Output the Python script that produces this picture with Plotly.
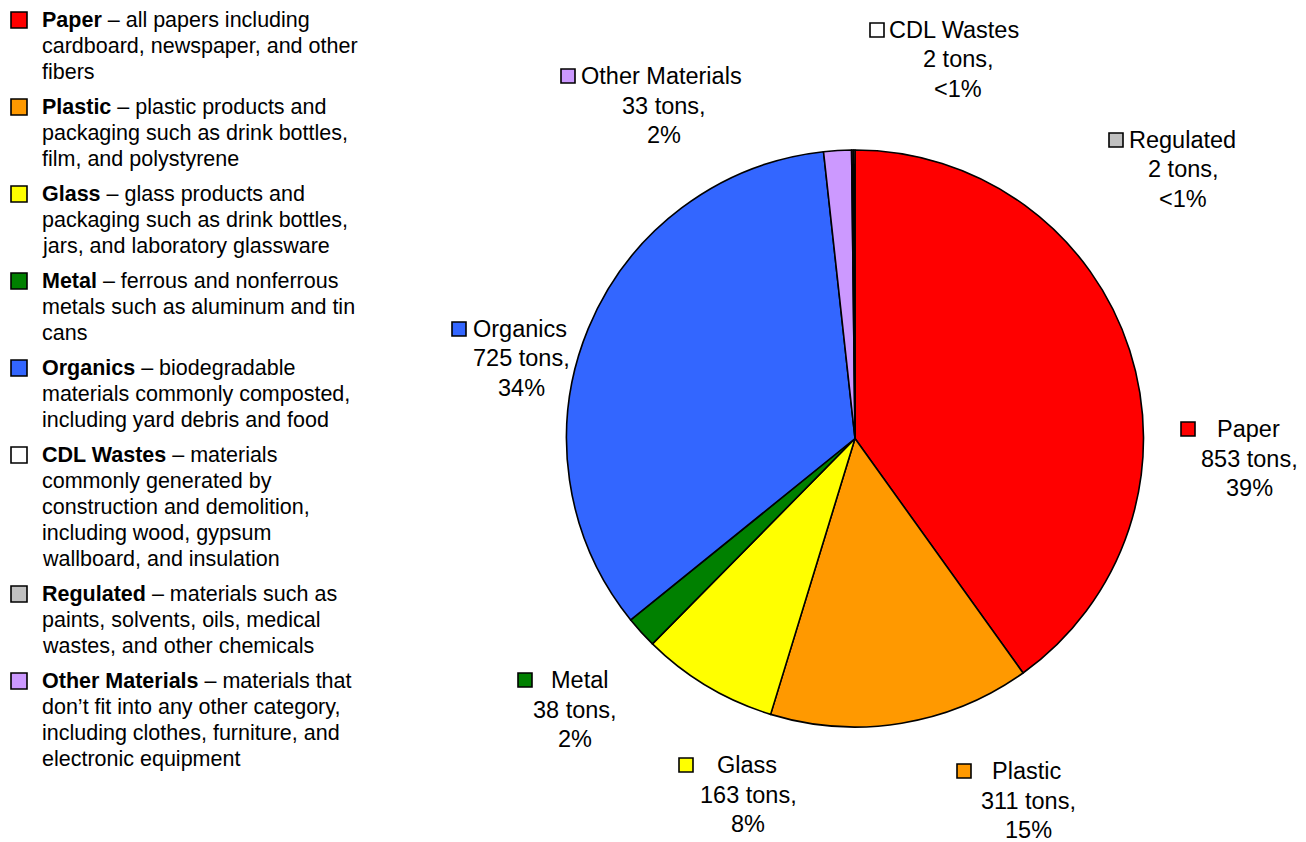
import plotly.graph_objects as go

W, H = 1306, 842

# Waste composition (tons), in clockwise slice order starting at 12 o'clock
categories = ["Paper", "Plastic", "Glass", "Metal", "Organics",
              "Other Materials", "CDL Wastes", "Regulated"]
tons = [853, 311, 163, 38, 725, 33, 2, 2]
pct_labels = ["39%", "15%", "8%", "2%", "34%", "2%", "<1%", "<1%"]
colors = ["#FF0000", "#FF9900", "#FFFF00", "#008000", "#3366FF",
          "#CC99FF", "#FFFFFF", "#C0C0C0"]

# Descriptive key on the left
key_order = ["Paper", "Plastic", "Glass", "Metal", "Organics",
             "CDL Wastes", "Regulated", "Other Materials"]
key_lines = {
    "Paper": [" – all papers including", "cardboard, newspaper, and other", "fibers"],
    "Plastic": [" – plastic products and", "packaging such as drink bottles,",
                "film, and polystyrene"],
    "Glass": [" – glass products and", "packaging such as drink bottles,",
              "jars, and laboratory glassware"],
    "Metal": [" – ferrous and nonferrous", "metals such as aluminum and tin", "cans"],
    "Organics": [" – biodegradable", "materials commonly composted,",
                 "including yard debris and food"],
    "CDL Wastes": [" – materials", "commonly generated by", "construction and demolition,",
                   "including wood, gypsum", "wallboard, and insulation"],
    "Regulated": [" – materials such as", "paints, solvents, oils, medical",
                  "wastes, and other chemicals"],
    "Other Materials": [" – materials that", "don’t fit into any other category,",
                        "including clothes, furniture, and", "electronic equipment"],
}

FONT = "Liberation Sans, Arial, sans-serif"


def fx(x):
    return x / W


def fy(y):
    return 1 - y / H


# pie geometry in pixels
CX, CY, R = 855, 438.5, 288.5

fig = go.Figure(go.Pie(
    labels=categories,
    values=tons,
    sort=False,
    direction="clockwise",
    rotation=0,
    marker=dict(colors=colors, line=dict(color="#000000", width=1.6)),
    textinfo="none",
    hoverinfo="label+value",
    showlegend=False,
    domain=dict(x=[fx(CX - R), fx(CX + R)], y=[fy(CY + R), fy(CY - R)]),
))

annotations = []
shapes = []
color_of = dict(zip(categories, colors))


def square(cx, cy, size, color):
    h = size / 2
    shapes.append(dict(type="rect", xref="paper", yref="paper",
                       x0=fx(cx - h), x1=fx(cx + h), y0=fy(cy + h), y1=fy(cy - h),
                       fillcolor=color, line=dict(color="#000000", width=1.6)))


def text(x, y, s, size, anchor="left"):
    annotations.append(dict(xref="paper", yref="paper", x=fx(x), y=fy(y),
                            xanchor=anchor, yanchor="middle", text=s, showarrow=False,
                            borderpad=0, borderwidth=0,
                            font=dict(family=FONT, size=size, color="#000000")))


# left-hand key
KEY_SIZE, KEY_STEP, KEY_GAP = 21.5, 26, 9
y = 20
for name in key_order:
    lines = key_lines[name]
    square(19, y, 16, color_of[name])
    for i, ln in enumerate(lines):
        s = f"<b>{name}</b>{ln}" if i == 0 else ln
        text(42, y + i * KEY_STEP, s, KEY_SIZE)
    y += len(lines) * KEY_STEP + KEY_GAP

# slice labels: (square x, name start x, name y, value column center x)
label_pos = {
    "Paper": (1188, 1217, 429, 1249),
    "Plastic": (964, 992, 771, 1028),
    "Glass": (686, 717, 765, 748),
    "Metal": (525, 551, 680, 575),
    "Organics": (459, 473, 329, 521),
    "Other Materials": (568, 581, 76, 664),
    "CDL Wastes": (877, 889, 30, 958),
    "Regulated": (1116, 1129, 140, 1183),
}
LBL_SIZE, LBL_STEP = 23.5, 29.5
for name, t, p in zip(categories, tons, pct_labels):
    sx, tx, ny, vx = label_pos[name]
    square(sx, ny, 14, color_of[name])
    text(tx, ny, name, LBL_SIZE)
    text(vx, ny + LBL_STEP, f"{t} tons,", LBL_SIZE, "center")
    text(vx, ny + 2 * LBL_STEP, p, LBL_SIZE, "center")

fig.update_layout(
    width=W, height=H,
    margin=dict(l=0, r=0, t=0, b=0),
    paper_bgcolor="#FFFFFF",
    plot_bgcolor="#FFFFFF",
    annotations=annotations,
    shapes=shapes,
)

fig.write_html("out.html")
